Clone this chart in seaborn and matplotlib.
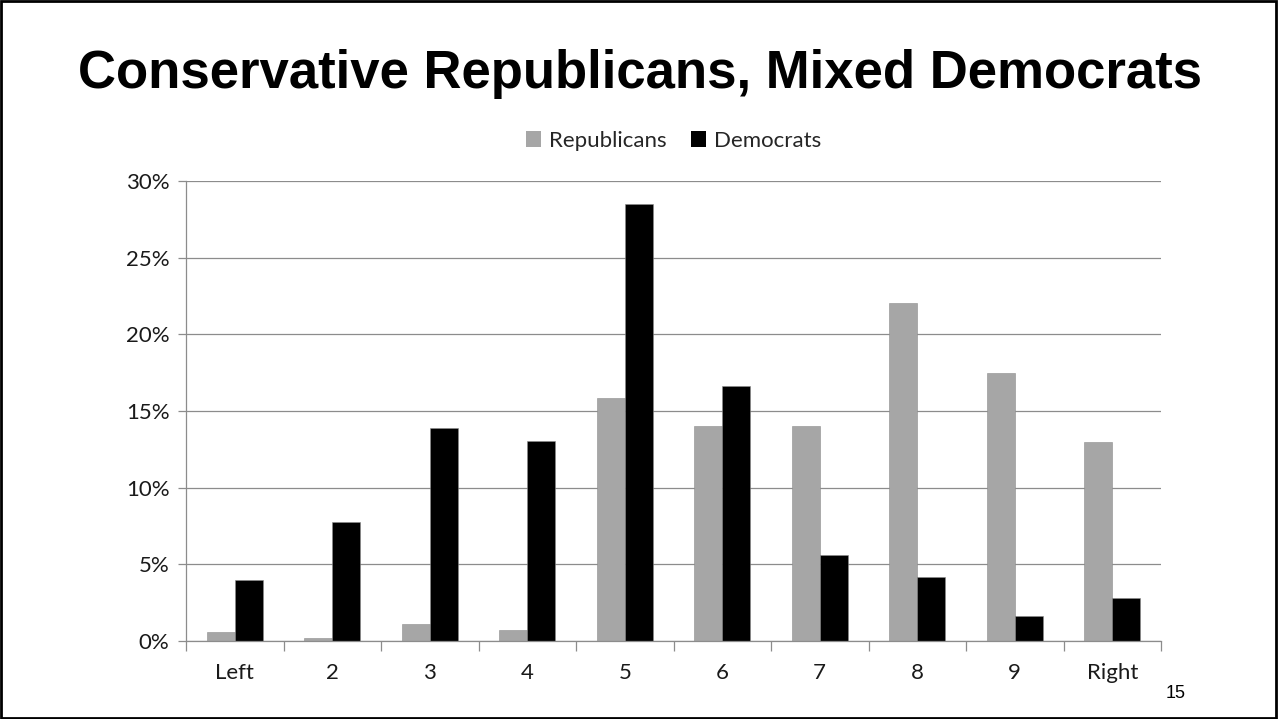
import matplotlib
matplotlib.use("Agg")
import matplotlib.pyplot as plt
import seaborn as sns
import pandas as pd
from matplotlib.ticker import PercentFormatter, FixedLocator

categories = ["Left", "2", "3", "4", "5", "6", "7", "8", "9", "Right"]
republicans = [0.6, 0.2, 1.1, 0.7, 15.85, 14.0, 14.0, 22.05, 17.5, 13.0]
democrats = [4.0, 7.75, 13.9, 13.05, 28.5, 16.6, 5.6, 4.2, 1.6, 2.8]
series_names = ["Republicans", "Democrats"]
colors = ["#a6a6a6", "#000000"]

df = pd.DataFrame({
    "category": categories * 2,
    "party": [series_names[0]] * len(categories) + [series_names[1]] * len(categories),
    "value": republicans + democrats,
})

sns.set_theme(style="white")
plt.rcParams["font.family"] = ["Lato", "DejaVu Sans"]

fig = plt.figure(figsize=(12.79, 7.19), dpi=100)
ax = fig.add_axes([186 / 1279, 1 - 641 / 719, (1161 - 186) / 1279, (641 - 181) / 719])

sns.barplot(data=df, x="category", y="value", hue="party", order=categories,
            hue_order=series_names, palette=colors, width=0.575,
            edgecolor="#8c8c8c", linewidth=0.4, saturation=1, ax=ax, legend=True)

ax.set_xlim(-0.5, len(categories) - 0.5)
ax.set_ylim(0, 30)
ax.set_yticks(range(0, 31, 5))
ax.yaxis.set_major_formatter(PercentFormatter(decimals=0))
ax.yaxis.grid(True, color="#8c8c8c", linewidth=0.9)
ax.set_axisbelow(True)
ax.set_xlabel("")
ax.set_ylabel("")

for side in ["top", "right"]:
    ax.spines[side].set_visible(False)
for side in ["left", "bottom"]:
    ax.spines[side].set_color("#8c8c8c")
    ax.spines[side].set_linewidth(0.9)

ax.tick_params(axis="y", which="major", direction="out", length=6, width=0.9,
               color="#8c8c8c", left=True, labelsize=16, labelcolor="#1a1a1a", pad=6)
# category boundary ticks on the x axis
ax.xaxis.set_minor_locator(FixedLocator([i - 0.5 for i in range(len(categories) + 1)]))
ax.tick_params(axis="x", which="minor", direction="out", length=7, width=0.9,
               color="#8c8c8c", bottom=True)
ax.tick_params(axis="x", which="major", length=0, labelsize=16, labelcolor="#1a1a1a", pad=16)

leg = ax.legend(loc="center", bbox_to_anchor=(0.5, 1 + (181 - 141) / 460), ncol=2, frameon=False,
                fontsize=16, handlelength=0.7, handleheight=0.7, handletextpad=0.35,
                columnspacing=1.1, borderaxespad=0)
for h in leg.legend_handles:
    h.set_linewidth(0)

fig.text(0.5, 1 - 74 / 719, "Conservative Republicans, Mixed Democrats",
         ha="center", va="center", fontsize=38, fontweight="bold",
         family=["Liberation Sans", "DejaVu Sans"], color="black")
fig.text(1176 / 1279, 1 - 693 / 719, "15", ha="center", va="center", fontsize=13,
         family=["Liberation Sans", "DejaVu Sans"], color="black")

# slide frame
fig.patches.append(plt.Rectangle((0.001, 0.002), 0.997, 0.996, transform=fig.transFigure,
                                 fill=False, edgecolor="black", linewidth=2))

fig.savefig("out.png", dpi=100)
